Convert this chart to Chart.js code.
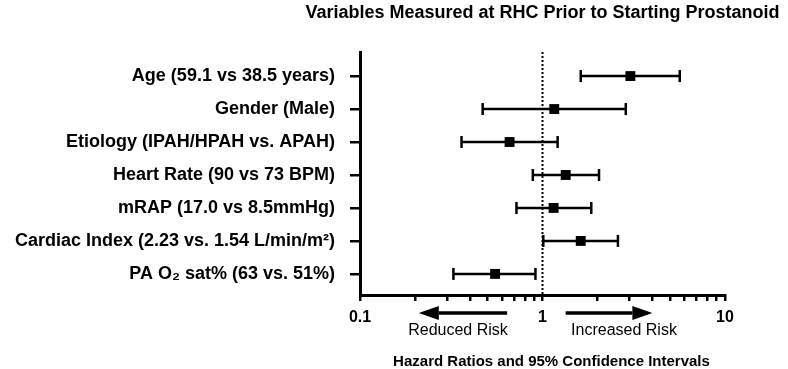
<!DOCTYPE html>
<html>
<head>
<meta charset="utf-8">
<script src="https://cdn.jsdelivr.net/npm/chart.js@4"></script>
<style>
  body { margin: 0; background: #fff; }
  #wrap { width: 788px; height: 369px; position: relative; }
</style>
</head>
<body>
<div id="wrap"><canvas id="forestChart"></canvas></div>
<script>
// rows, top to bottom
const categories = [
    "Age (59.1 vs 38.5 years)",
    "Gender (Male)",
    "Etiology (IPAH/HPAH vs. APAH)",
    "Heart Rate (90 vs 73 BPM)",
    "mRAP (17.0 vs 8.5mmHg)",
    "Cardiac Index (2.23 vs. 1.54 L/min/m\u00B2)",
    "PA O\u2082 sat% (63 vs. 51%)"
];
const hazardRatios = [3.03, 1.16, 0.66, 1.34, 1.15, 1.62, 0.55];
const lowerCI = [1.62, 0.47, 0.36, 0.885, 0.72, 1.01, 0.325];
const upperCI = [5.65, 2.86, 1.21, 2.04, 1.85, 2.59, 0.915];

const xTicks = [0.1, 0.2, 0.3, 0.4, 0.5, 0.6, 0.7, 0.8, 0.9, 1, 2, 3, 4, 5, 6, 7, 8, 9, 10];
const xTickLabels = ["0.1", "1", "10"];

const chartTitle = "Variables Measured at RHC Prior to Starting Prostanoid";
const xTitle = "Hazard Ratios and 95% Confidence Intervals";

Chart.defaults.font.family = "'Liberation Sans', Arial, sans-serif";
Chart.defaults.color = "#000";

// interval datasets, one per row
let intervalSets = categories.map((c, i) => ({
    type: 'line',
    data: [{ x: lowerCI[i], y: i }, { x: upperCI[i], y: i }],
    borderColor: '#000',
    borderWidth: 2.5,
    pointStyle: 'line',
    rotation: 90,
    pointRadius: 6,
    pointBorderWidth: 2.5,
    pointBorderColor: '#000',
    order: 1
}));

// annotations: title, arrows, risk text, x title
const extras = {
    id: 'extras',
    afterDraw(chart) {
        const ctx = chart.ctx;
        const area = chart.chartArea;
        const xs = chart.scales.x;
        const mid = (area.left + area.right) / 2;
        ctx.save();
        ctx.fillStyle = '#000';
        ctx.strokeStyle = '#000';
        ctx.textAlign = 'center';
        ctx.textBaseline = 'alphabetic';

        ctx.font = "bold 18px 'Liberation Sans', Arial, sans-serif";
        ctx.fillText(chartTitle, mid, 18);

        // arrows
        const ay = 313;
        drawArrow(ctx, xs.getPixelForValue(0.64), xs.getPixelForValue(0.21), ay);
        drawArrow(ctx, xs.getPixelForValue(1.34), xs.getPixelForValue(4.0), ay);

        ctx.font = "16px 'Liberation Sans', Arial, sans-serif";
        ctx.fillText("Reduced Risk", 458, 335);
        ctx.fillText("Increased Risk", 624, 335);

        ctx.font = "bold 15px 'Liberation Sans', Arial, sans-serif";
        ctx.fillText(xTitle, mid + 9, 366);
        ctx.restore();
    }
};

function drawArrow(ctx, x0, x1, y) {
    const dir = x1 > x0 ? 1 : -1;
    const head = 20;
    ctx.lineWidth = 3.5;
    ctx.beginPath();
    ctx.moveTo(x0, y);
    ctx.lineTo(x1 - dir * head, y);
    ctx.stroke();
    ctx.beginPath();
    ctx.moveTo(x1, y);
    ctx.lineTo(x1 - dir * head, y - 7);
    ctx.lineTo(x1 - dir * head, y + 7);
    ctx.closePath();
    ctx.fill();
}

let chart = new Chart(document.getElementById('forestChart').getContext('2d'), {
    type: 'scatter',
    data: {
        datasets: [
            {
                label: 'HR',
                data: hazardRatios.map((v, i) => ({ x: v, y: i })),
                pointStyle: 'rect',
                pointRadius: 7,
                pointBackgroundColor: '#000',
                pointBorderWidth: 0,
                order: 0
            },
            ...intervalSets,
            {
                type: 'line',
                data: [{ x: 1, y: -0.73 }, { x: 1, y: 6.64 }],
                borderColor: '#000',
                borderWidth: 2,
                borderDash: [2, 2],
                pointRadius: 0,
                order: 2
            }
        ]
    },
    options: {
        responsive: true,
        maintainAspectRatio: false,
        animation: false,
        layout: { padding: { top: 52, right: 63, left: 0, bottom: 0 } },
        plugins: {
            legend: { display: false },
            tooltip: { enabled: false }
        },
        scales: {
            x: {
                type: 'logarithmic',
                min: 0.1,
                max: 10,
                afterBuildTicks: scale => {
                    scale.ticks = xTicks.map(v => ({ value: v, major: xTickLabels.includes(String(v)) }));
                },
                afterFit: scale => { scale.height = 74; },
                border: { color: '#000', width: 3 },
                grid: {
                    drawOnChartArea: false,
                    drawTicks: true,
                    tickLength: 6,
                    color: '#000',
                    lineWidth: 2.5
                },
                ticks: {
                    autoSkip: false,
                    maxRotation: 0,
                    padding: 7,
                    font: { size: 16, weight: 'bold' },
                    callback: v => xTickLabels.includes(String(v)) ? String(v) : ''
                }
            },
            y: {
                type: 'linear',
                reverse: true,
                min: -0.73,
                max: 6.64,
                afterBuildTicks: scale => {
                    scale.ticks = categories.map((c, i) => ({ value: i }));
                },
                afterFit: scale => { scale.width = 360; },
                border: { color: '#000', width: 3 },
                grid: {
                    drawOnChartArea: false,
                    drawTicks: true,
                    tickLength: 10,
                    color: '#000',
                    lineWidth: 2.5
                },
                ticks: {
                    padding: 15,
                    font: { size: 18, weight: 'bold' },
                    callback: v => categories[v]
                }
            }
        }
    },
    plugins: [extras]
});
</script>
</body>
</html>
